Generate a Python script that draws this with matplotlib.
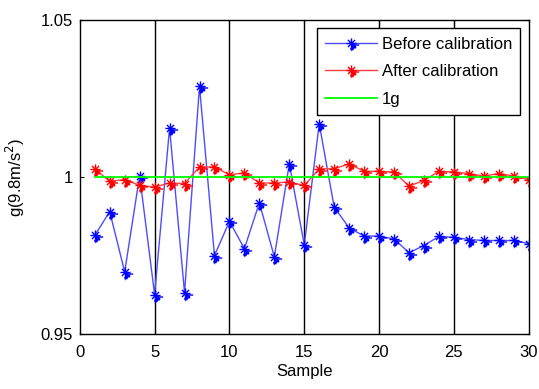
import matplotlib
matplotlib.use("Agg")
import matplotlib.pyplot as plt
from matplotlib.path import Path
import numpy as np

samples = list(range(1, 31))
before = [0.9814, 0.9890, 0.9698, 1.0004, 0.9626, 1.0156, 0.9632, 1.0289, 0.9750, 0.9859,
          0.9772, 0.9918, 0.9746, 1.0042, 0.9784, 1.0169, 0.9904, 0.9838, 0.9812, 0.9812,
          0.9803, 0.9759, 0.9782, 0.9811, 0.9808, 0.9801, 0.9798, 0.9798, 0.9798, 0.9788]
after = [1.0026, 0.9986, 0.9992, 0.9973, 0.9968, 0.9981, 0.9979, 1.0032, 1.0032, 1.0007,
         1.0013, 0.9981, 0.9981, 0.9984, 0.9973, 1.0026, 1.0026, 1.0042, 1.0018, 1.0018,
         1.0016, 0.9971, 0.9989, 1.0018, 1.0016, 1.0011, 1.0003, 1.0011, 1.0003, 0.9991]
one_g = [1.0] * 30
xticks = [0, 5, 10, 15, 20, 25, 30]
yticks = [0.95, 1.0, 1.05]
yticklabels = ["0.95", "1", "1.05"]

# MATLAB-like asterisk marker with the little artefact blobs
verts, codes = [], []
def seg(a, b):
    verts.extend([a, b]); codes.extend([Path.MOVETO, Path.LINETO])
def box(x0, y0, x1, y1):
    verts.extend([(x0, y0), (x1, y0), (x1, y1), (x0, y1), (x0, y0)])
    codes.extend([Path.MOVETO, Path.LINETO, Path.LINETO, Path.LINETO, Path.CLOSEPOLY])
seg((-1, 0), (1, 0))
seg((0, -1), (0, 1))
seg((-0.7, -0.7), (0.7, 0.7))
seg((-0.7, 0.7), (0.7, -0.7))
seg((0, -0.3), (1.5, -0.3))
box(0.1, -0.6, 0.8, -0.85)
box(-0.1, -0.95, 0.3, -1.2)
seg((0.0, -1.4), (0.0, -1.5))
marker = Path(verts, codes)

plt.rcParams['font.family'] = ['Liberation Sans', 'DejaVu Sans']
fig = plt.figure(figsize=(5.39, 3.89), dpi=100)
ax = fig.add_axes([0.148, 0.141, 0.833, 0.808])

ax.plot(samples, before, color=(0.3, 0.3, 1), lw=1, marker=marker, ms=11, mew=1,
        mec=(0, 0, 1), mfc=(0, 0, 1), label='Before calibration')
ax.plot(samples, after, color=(1, 0.25, 0.25), lw=1, marker=marker, ms=11, mew=1,
        mec=(1, 0, 0), mfc=(1, 0, 0), label='After calibration')
ax.plot(samples, one_g, color=(0, 1, 0), lw=1.3, label='1g')

ax.set_xlim(0, 30)
ax.set_ylim(0.95, 1.05)
ax.set_xticks(xticks)
ax.set_yticks(yticks)
ax.set_yticklabels(yticklabels)
ax.tick_params(direction='in', labelsize=12, top=True, right=True, length=3, color='black')
ax.tick_params(axis='x', pad=8)
ax.tick_params(axis='y', pad=5)
for v in xticks[1:-1]:
    ax.axvline(v, color='black', lw=1, zorder=0)
for s in ax.spines.values():
    s.set_linewidth(1)
ax.set_xlabel('Sample', fontsize=12, labelpad=3)
ax.set_ylabel('g(9.8m/s$^2$)', fontsize=12, labelpad=10)

leg = ax.legend(loc='upper right', fontsize=12, frameon=True, fancybox=False,
                edgecolor='black', framealpha=1, borderaxespad=0.5, handlelength=3.1,
                labelspacing=0.75, handletextpad=0.3, borderpad=0.5)
leg.get_frame().set_linewidth(1)

fig.savefig('out.png', dpi=100)
